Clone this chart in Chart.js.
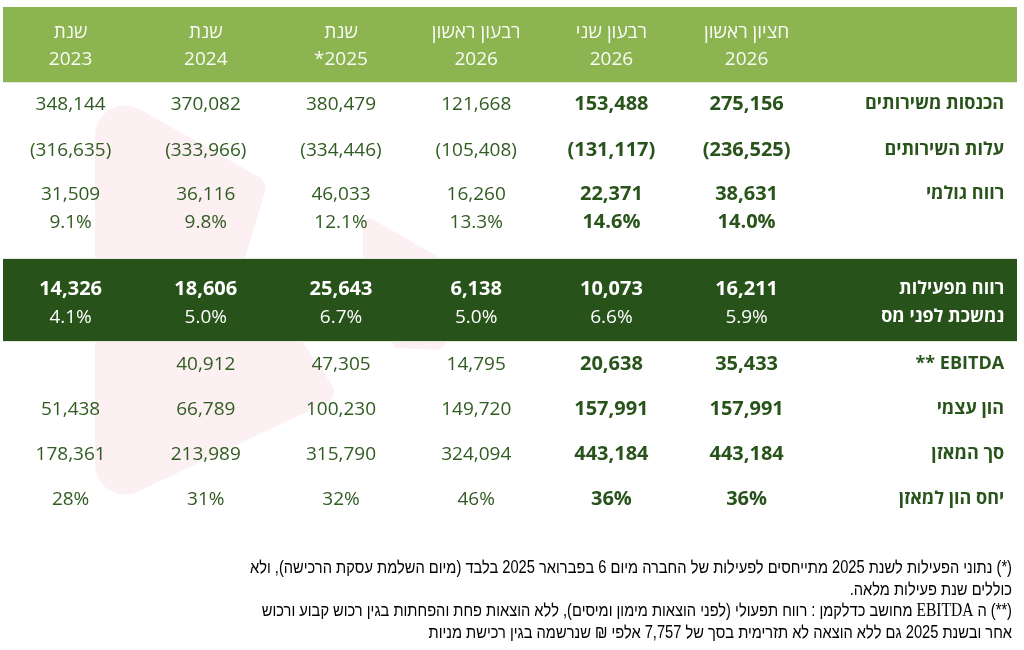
<!DOCTYPE html>
<html lang="he">
<head>
<meta charset="utf-8">
<script src="https://cdn.jsdelivr.net/npm/chart.js@4.4.1/dist/chart.umd.min.js"></script>
<style>
html,body{margin:0;padding:0;background:#ffffff;overflow:hidden}
#wrap{width:1024px;height:650px;position:relative}
</style>
</head>
<body>
<div id="wrap"><canvas id="c" width="1024" height="650"></canvas></div>
<script>
// ---------- DATA (columns in reading order, right to left) ----------
const headerLine1 = ['חציון ראשון', 'רבעון שני', 'רבעון ראשון', 'שנת', 'שנת', 'שנת'];
const headerLine2 = ['2026', '2026', '2026', '*2025', '2024', '2023'];
const rowLabels = [
  ['הכנסות משירותים'],
  ['עלות השירותים'],
  ['רווח גולמי'],
  ['רווח מפעילות', 'נמשכת לפני מס'],
  ['EBITDA **'],
  ['הון עצמי'],
  ['סך המאזן'],
  ['יחס הון למאזן']
];
const revenue         = [275156, 153488, 121668, 380479, 370082, 348144];
const costOfServices  = [-236525, -131117, -105408, -334446, -333966, -316635];
const grossProfit     = [38631, 22371, 16260, 46033, 36116, 31509];
const grossMargin     = [14.0, 14.6, 13.3, 12.1, 9.8, 9.1];
const operatingProfit = [16211, 10073, 6138, 25643, 18606, 14326];
const operatingMargin = [5.9, 6.6, 5.0, 6.7, 5.0, 4.1];
const ebitda          = [35433, 20638, 14795, 47305, 40912, null];
const equity          = [157991, 157991, 149720, 100230, 66789, 51438];
const totalAssets     = [443184, 443184, 324094, 315790, 213989, 178361];
const equityRatio     = [36, 36, 46, 32, 31, 28];
const footnote1 = [
  '(*) נתוני הפעילות לשנת 2025 מתייחסים לפעילות של החברה מיום 6 בפברואר 2025 בלבד (מיום השלמת עסקת הרכישה), ולא',
  'כוללים שנת פעילות מלאה.'
];
const footnote2 = [
  ['(**) ה', 'EBITDA', 'מחושב כדלקמן : רווח תפעולי (לפני הוצאות מימון ומיסים), ללא הוצאות פחת והפחתות בגין רכוש קבוע ורכוש'],
  ['אחר ובשנת 2025 גם ללא הוצאה לא תזרימית בסך של 7,757 אלפי ₪ שנרשמה בגין רכישת מניות']
];

// ---------- FORMATTERS ----------
const fmtNum = v => v < 0 ? '(' + Math.abs(v).toLocaleString('en-US') + ')' : v.toLocaleString('en-US');
const fmtPct1 = v => v.toFixed(1) + '%';
const fmtPct0 = v => v + '%';
const RLM = '\u200F';
const hasHebrew = t => /[\u0590-\u05FF]/.test(t);

// ---------- LAYOUT (positions / styles, in axis units) ----------
const L = {
  headerBand: [7, 82],
  opBand: [259, 341],
  headerY: [31, 58],
  rowY: [[103], [149], [193, 221], [288, 316], [363], [408], [453], [498]],
  labelX: 6.905,
  footX: 6.963,
  footY: [567, 589, 610, 632],
  footWidth: 762,
  boldCols: 2,
  font: "'Open Sans','Noto Sans','DejaVu Sans',sans-serif",
  fontSize: 19,
  boldSize: 20,
  labelSize: 18,
  cGreenLight: '#8cb450',
  cGreenDark: '#27531a',
  cText: '#305c22',
  cTextBold: '#28541b',
  cHeader: '#fafcf6',
  cWhite: '#ffffff',
  cMark: '#fdf0f3'
};

const tableRows = [
  { lines: [{ vals: revenue, fmt: fmtNum }] },
  { lines: [{ vals: costOfServices, fmt: fmtNum }] },
  { lines: [{ vals: grossProfit, fmt: fmtNum }, { vals: grossMargin, fmt: fmtPct1 }] },
  { band: true, lines: [{ vals: operatingProfit, fmt: fmtNum }, { vals: operatingMargin, fmt: fmtPct1 }] },
  { lines: [{ vals: ebitda, fmt: fmtNum }] },
  { lines: [{ vals: equity, fmt: fmtNum }] },
  { lines: [{ vals: totalAssets, fmt: fmtNum }] },
  { lines: [{ vals: equityRatio, fmt: fmtPct0 }] }
];

const nCols = headerLine2.length;
const colValue = i => nCols - 1 - i;   // reading-order index -> x axis value

const datasets = [];
tableRows.forEach((row, r) => {
  row.lines.forEach((ln, l) => {
    datasets.push({
      label: rowLabels[r][0] + '#' + l,
      data: ln.vals.map((v, i) => ({ x: colValue(i), y: L.rowY[r][l], v: v })),
      rowIndex: r, lineIndex: l, fmt: ln.fmt, band: !!row.band,
      pointRadius: 0, pointHoverRadius: 0, showLine: false
    });
  });
});

const capOff = s => Math.round(s * 0.36);

const tablePlugin = {
  id: 'tablePlugin',
  beforeDatasetsDraw(chart) {
    const { ctx, chartArea: a, scales: { x, y } } = chart;
    ctx.save();
    // faint watermark (decoration)
    ctx.fillStyle = L.cMark;
    ctx.beginPath();
    ctx.moveTo(95, 300);
    ctx.arcTo(95, 84, 268, 182, 30);
    ctx.arcTo(268, 182, 245, 258, 14);
    ctx.lineTo(245, 258);
    ctx.arcTo(340, 396, 95, 512, 12);
    ctx.arcTo(95, 512, 95, 300, 30);
    ctx.closePath();
    ctx.fill();
    ctx.beginPath();
    ctx.moveTo(363, 290);
    ctx.arcTo(363, 214, 500, 292, 6);
    ctx.arcTo(500, 292, 430, 350, 20);
    ctx.arcTo(440, 350, 395, 348, 8);
    ctx.lineTo(395, 348);
    ctx.closePath();
    ctx.fill();
    // bands
    const t1 = y.getPixelForValue(L.headerBand[0]), b1 = y.getPixelForValue(L.headerBand[1]);
    ctx.fillStyle = L.cGreenLight;
    ctx.fillRect(a.left, t1, a.right - a.left, b1 - t1);
    ctx.fillStyle = '#e2ebd8';
    ctx.fillRect(a.left, b1, a.right - a.left, 1);
    const t2 = y.getPixelForValue(L.opBand[0]), b2 = y.getPixelForValue(L.opBand[1]);
    ctx.fillStyle = '#e6e6e6';
    ctx.fillRect(a.left, t2 - 1, a.right - a.left, 1);
    ctx.fillStyle = L.cGreenDark;
    ctx.fillRect(a.left, t2, a.right - a.left, b2 - t2);
    ctx.fillStyle = '#dfe8d6';
    ctx.fillRect(a.left, b2, a.right - a.left, 1);
    ctx.restore();
  },
  afterDatasetsDraw(chart) {
    const { ctx, scales: { x, y } } = chart;
    const fs = L.fontSize;
    ctx.save();
    ctx.textAlign = 'center';
    ctx.textBaseline = 'alphabetic';
    // header
    ctx.fillStyle = L.cHeader;
    ctx.font = `400 ${fs}px ${L.font}`;
    for (let i = 0; i < nCols; i++) {
      const px = x.getPixelForValue(colValue(i));
      ctx.direction = 'rtl';
      ctx.fillText(RLM + headerLine1[i], px, y.getPixelForValue(L.headerY[0]) + capOff(fs));
      ctx.direction = 'ltr';
      ctx.fillText(headerLine2[i], px, y.getPixelForValue(L.headerY[1]) + capOff(fs));
    }
    // cells
    chart.data.datasets.forEach((ds, di) => {
      const meta = chart.getDatasetMeta(di);
      meta.data.forEach((pt, i) => {
        const raw = ds.data[i];
        if (raw.v == null) return;
        let bold, color;
        if (ds.band) { bold = ds.lineIndex === 0; color = L.cWhite; }
        else { bold = i < L.boldCols; color = bold ? L.cTextBold : L.cText; }
        const s = bold ? L.boldSize : fs;
        ctx.font = `${bold ? 700 : 400} ${s}px ${L.font}`;
        ctx.fillStyle = color;
        ctx.direction = 'ltr';
        ctx.textAlign = 'center';
        ctx.fillText(ds.fmt(raw.v), pt.x, pt.y + capOff(fs));
      });
    });
    // row labels (right-to-left layout; Latin-only labels laid out word by word from the right)
    const lx = x.getPixelForValue(L.labelX);
    ctx.textAlign = 'right';
    rowLabels.forEach((lines, r) => {
      ctx.font = `700 ${L.labelSize}px ${L.font}`;
      ctx.fillStyle = tableRows[r].band ? L.cWhite : L.cTextBold;
      lines.forEach((t, l) => {
        const yy = y.getPixelForValue(L.rowY[r][l]) + capOff(L.labelSize);
        if (hasHebrew(t)) {
          ctx.direction = 'rtl';
          ctx.fillText(RLM + t, lx, yy);
        } else {
          ctx.direction = 'ltr';
          const sp = ctx.measureText(' ').width;
          let off = 0;
          t.split(' ').forEach(w => {
            ctx.fillText(w, lx - off, yy);
            off += ctx.measureText(w).width + sp;
          });
        }
      });
    });
    // footnotes
    const fx = x.getPixelForValue(L.footX);
    const ffont = "400 17.5px 'Liberation Sans', Arial, sans-serif";
    const sfont = "400 18.5px 'Liberation Serif', 'Times New Roman', serif";
    ctx.font = ffont;
    const ratio = Math.min(1, L.footWidth / ctx.measureText(RLM + footnote1[0]).width);
    ctx.fillStyle = '#000000';
    const drawRuns = (runs, yy) => {
      ctx.save();
      ctx.translate(fx, y.getPixelForValue(yy) + 6);
      ctx.scale(ratio, 1);
      let off = 0;
      runs.forEach((t) => {
        const isLatin = /^[A-Za-z]+$/.test(t);
        ctx.font = isLatin ? sfont : ffont;
        ctx.direction = isLatin ? 'ltr' : 'rtl';
        ctx.textAlign = 'right';
        const txt = isLatin ? t : RLM + t;
        ctx.fillText(txt, -off, 0);
        const w = ctx.measureText(txt).width;
        ctx.font = ffont;
        const sp = ctx.measureText(' ').width;
        off += w + sp;
      });
      ctx.restore();
    };
    drawRuns([footnote1[0]], L.footY[0]);
    drawRuns([footnote1[1]], L.footY[1]);
    drawRuns(footnote2[0], L.footY[2]);
    drawRuns(footnote2[1], L.footY[3]);
    ctx.restore();
  }
};

new Chart(document.getElementById('c'), {
  type: 'scatter',
  data: { datasets },
  options: {
    responsive: false,
    animation: false,
    events: [],
    layout: { padding: { left: 3, right: 7, top: 0, bottom: 0 } },
    plugins: { legend: { display: false }, tooltip: { enabled: false } },
    scales: {
      x: { type: 'linear', min: -0.5, max: 7, display: false },
      y: { type: 'linear', min: 0, max: 650, reverse: true, display: false }
    }
  },
  plugins: [tablePlugin]
});
</script>
</body>
</html>
